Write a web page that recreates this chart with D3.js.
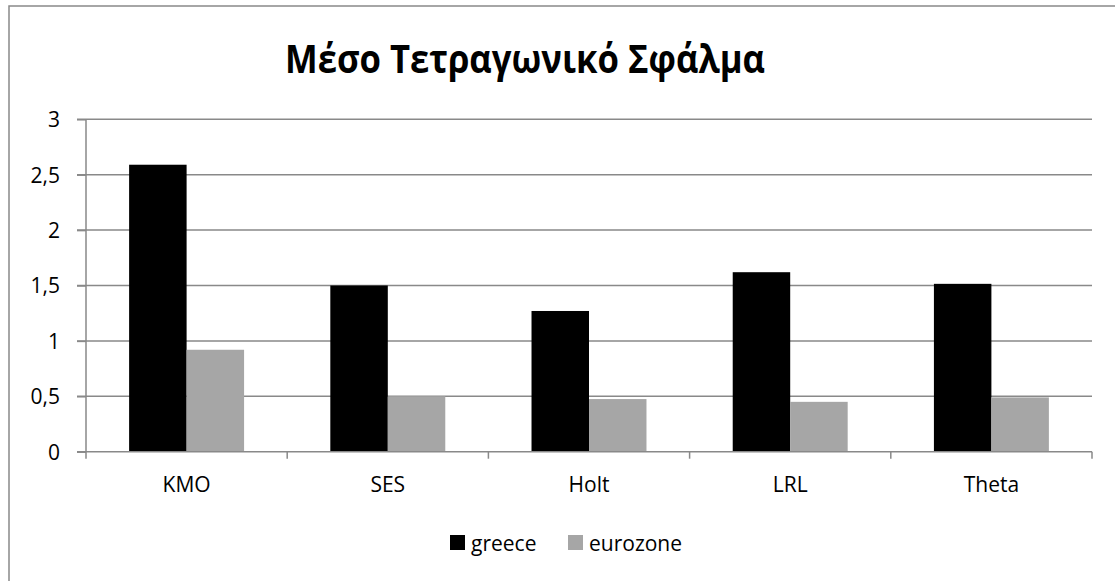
<!DOCTYPE html>
<html><head><meta charset="utf-8">
<script src="https://cdn.jsdelivr.net/npm/d3@7"></script>
<style>body{margin:0;background:#fff}svg{display:block}</style>
</head><body>
<svg id="c" width="1115" height="581"></svg>
<script>
const title = "Μέσο Τετραγωνικό Σφάλμα";
const categories = ["KMO", "SES", "Holt", "LRL", "Theta"];
const seriesNames = ["greece", "eurozone"];
const greece = [2.59, 1.50, 1.27, 1.62, 1.515];
const eurozone = [0.92, 0.50, 0.475, 0.45, 0.49];
const yTicks = [0, 0.5, 1, 1.5, 2, 2.5, 3];
const colors = ["#000000", "#a6a6a6"];

const svg = d3.select("#c");
const font = "'Open Sans', 'Noto Sans', sans-serif";
const L = 86, R = 1092, T = 119.3, B = 451.7;

svg.append("rect").attr("x", 9).attr("y", 6).attr("width", 1115).attr("height", 600)
  .attr("fill", "#fff").attr("stroke", "#898989").attr("stroke-width", 1.5);

const x = d3.scaleBand().domain(categories).range([L, R]).paddingInner(0.4286).paddingOuter(0.2143);
const xs = d3.scaleBand().domain(seriesNames).range([0, x.bandwidth()]);
const y = d3.scaleLinear().domain([0, 3]).range([B, T]);

// gridlines
svg.append("g").selectAll("line").data(yTicks.filter(d => d > 0)).join("line")
  .attr("x1", L - 9).attr("x2", R).attr("y1", d => y(d)).attr("y2", d => y(d))
  .attr("stroke", "#898989").attr("stroke-width", 1.5);

// y axis
const yAxis = svg.append("g").attr("transform", `translate(${L},0)`)
  .call(d3.axisLeft(y).tickValues(yTicks).tickSize(9).tickPadding(17)
    .tickFormat(d => String(d).replace(".", ",")));
yAxis.selectAll("line,path").attr("stroke", "#898989").attr("stroke-width", 1.5);
yAxis.select("path").attr("d", `M0,${T}V${B}`);
yAxis.selectAll("text").attr("font-family", font).attr("font-size", 21).attr("fill", "#000").attr("dy", "0.35em");

// bars
const data = categories.map((c, i) => ({c, vals: [greece[i], eurozone[i]]}));
const g = svg.append("g");
data.forEach(d => {
  d.vals.forEach((v, j) => {
    g.append("rect")
      .attr("x", x(d.c) + xs(seriesNames[j]))
      .attr("y", y(v)).attr("width", xs.bandwidth()).attr("height", y(0) - y(v))
      .attr("fill", colors[j]);
  });
});

// x axis
const step = x.step();
const bounds = d3.range(categories.length + 1).map(i => L + i * step);
const xg = svg.append("g");
xg.append("line").attr("x1", L - 9).attr("x2", R).attr("y1", B).attr("y2", B)
  .attr("stroke", "#898989").attr("stroke-width", 1.5);
xg.selectAll("line.t").data(bounds).join("line").attr("class", "t")
  .attr("x1", d => d).attr("x2", d => d).attr("y1", B).attr("y2", B + 7)
  .attr("stroke", "#898989").attr("stroke-width", 1.5);
xg.selectAll("text").data(categories).join("text")
  .attr("x", d => x(d) + x.bandwidth() / 2).attr("y", 492)
  .attr("text-anchor", "middle").attr("font-family", font).attr("font-size", 21)
  .text(d => d);

// title
svg.append("text").attr("x", 525).attr("y", 73).attr("text-anchor", "middle")
  .attr("font-family", font).attr("font-weight", "bold").attr("font-size", 40)
  .attr("textLength", 480).attr("lengthAdjust", "spacingAndGlyphs").text(title);

// legend
const leg = svg.append("g");
const legX = [450, 568];
seriesNames.forEach((s, i) => {
  leg.append("rect").attr("x", legX[i]).attr("y", 535).attr("width", 15).attr("height", 15).attr("fill", colors[i]);
  leg.append("text").attr("x", legX[i] + 21).attr("y", 551).attr("font-family", font).attr("font-size", 21).text(s);
});
</script>
</body></html>
